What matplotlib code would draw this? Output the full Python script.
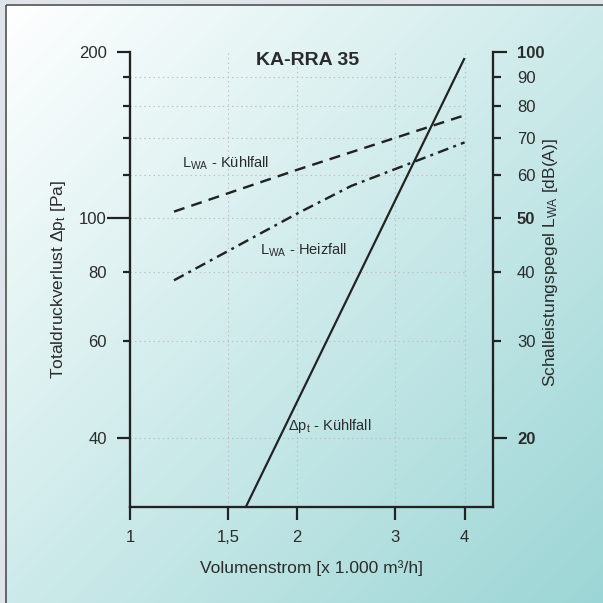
import numpy as np
import matplotlib
matplotlib.use('Agg')
import matplotlib.pyplot as plt
from matplotlib.patches import Rectangle
from matplotlib.ticker import NullLocator, FixedLocator, FixedFormatter

plt.rcParams['font.family'] = ['Liberation Sans', 'DejaVu Sans']
plt.rcParams['mathtext.fontset'] = 'custom'
plt.rcParams['mathtext.rm'] = 'Liberation Sans'
plt.rcParams['mathtext.it'] = 'Liberation Sans'
plt.rcParams['mathtext.bf'] = 'Liberation Sans:bold'

# ---------------- data ----------------
flow_dp = [1.6, 4.0]
dp_cool = [29.4, 195.0]                 # Pa (left axis)
flow_lwa_cool = [1.2, 2.0, 4.0]
lwa_cool = [51.4, 61.2, 76.8]           # dB(A) (right axis)
flow_lwa_heat = [1.2, 2.0, 2.5, 4.0]
lwa_heat = [38.6, 51.0, 57.2, 68.6]     # dB(A) (right axis)

x_ticks = [1, 1.5, 2, 3, 4]
x_ticklabels = ['1', '1,5', '2', '3', '4']
left_ticks = [40, 60, 80, 100, 120, 140, 160, 180, 200]
left_ticklabels = ['40', '60', '80', '100', '', '', '', '', '200']
right_ticks = [20, 30, 40, 50, 60, 70, 80, 90, 100]
right_ticklabels = ['20', '30', '40', '50', '60', '70', '80', '90', '100']
right_bold = ['20', '50', '100']

# ---------------- figure ----------------
W = H = 603
DPI = 100
fig = plt.figure(figsize=(W / DPI, H / DPI), dpi=DPI)
fig.patch.set_facecolor('#dfe4ea')
PT = 72.0 / DPI   # points per pixel
TXT = '#2b2b2b'
LN = '#222222'

# background gradient + frame
bg = fig.add_axes([0, 0, 1, 1], zorder=-10)
bg.axis('off')
yy, xx = np.mgrid[0:H, 0:W]
t = np.clip((xx + yy) / (2.0 * W), 0, 1)
c0 = np.array([255, 255, 255]) / 255.0
c1 = np.array([155, 213, 213]) / 255.0
img = c0[None, None, :] * (1 - t[..., None]) + c1[None, None, :] * t[..., None]
bg.imshow(img, extent=[5, W + 5, H + 4, 4], aspect='auto', interpolation='bilinear')
bg.add_patch(Rectangle((5.5, 4.5), 700, 700, fill=False, ec='#4a4a4a', lw=1.6 * PT * 1.0))
bg.set_xlim(0, W)
bg.set_ylim(H, 0)

# main axes
ax = fig.add_axes([130 / W, 1 - 507 / H, 363 / W, 455 / H])
ax.patch.set_alpha(0)
ax.set_xscale('log')
ax.set_yscale('log')
ax.set_xlim(1, 4.5)
ax.set_ylim(30, 200)

ax2 = ax.twinx()
ax2.set_yscale('log')
ax2.set_ylim(15, 100)
ax2.patch.set_alpha(0)

for a in (ax, ax2):
    for s in a.spines.values():
        s.set_visible(False)
    a.xaxis.set_minor_locator(NullLocator())
    a.yaxis.set_minor_locator(NullLocator())
ax.spines['left'].set_visible(True)
ax.spines['bottom'].set_visible(True)
ax2.spines['right'].set_visible(True)
for s in (ax.spines['left'], ax.spines['bottom'], ax2.spines['right']):
    s.set_linewidth(2.3 * PT)
    s.set_color(LN)

# grid (dotted) inside x 1..4, y 30..200
grid_c = '#c4b9bf'
ax.vlines(x_ticks[1:], 30, 200, colors=grid_c, linewidth=1.1 * PT, linestyles=(0, (1.2, 3)), zorder=1)
ax.hlines(left_ticks[:-1], 1, 4, colors=grid_c, linewidth=1.1 * PT, linestyles=(0, (1.2, 3)), zorder=1)

# curves
ax.plot(flow_dp, dp_cool, color=LN, lw=2.2 * PT, solid_capstyle='butt', zorder=3)
ax2.plot(flow_lwa_cool, lwa_cool, color=LN, lw=2.4 * PT, zorder=3,
         dashes=(4.6, 3.0), dash_capstyle='butt')
ax2.plot(flow_lwa_heat, lwa_heat, color=LN, lw=2.4 * PT, zorder=3,
         dashes=(4.6, 2.2, 1.2, 2.2), dash_capstyle='butt')

# x ticks
ax.xaxis.set_major_locator(FixedLocator(x_ticks))
ax.xaxis.set_major_formatter(FixedFormatter(x_ticklabels))
ax.tick_params(axis='x', direction='out', length=13 * PT, width=2.2 * PT, color=LN,
               pad=7, labelsize=12, labelcolor=TXT)

# left ticks
ax.yaxis.set_major_locator(FixedLocator(left_ticks))
ax.yaxis.set_major_formatter(FixedFormatter(left_ticklabels))
ax.tick_params(axis='y', direction='out', length=7 * PT, width=2.2 * PT, color=LN,
               pad=16 * PT, labelsize=12, labelcolor=TXT)

# right ticks
ax2.yaxis.set_major_locator(FixedLocator(right_ticks))
ax2.yaxis.set_major_formatter(FixedFormatter(right_ticklabels))
ax2.tick_params(axis='y', direction='out', length=8 * PT, width=2.2 * PT, color=LN,
                pad=16 * PT, labelsize=12, labelcolor=TXT)
ax2.tick_params(axis='x', bottom=False, top=False, labelbottom=False)

# texts
fig.text(308 / W, 1 - 60.5 / H, 'KA-RRA 35', ha='center', va='center',
         fontsize=14, fontweight='bold', color=TXT)
fig.text(58 / W, 1 - 279.5 / H, r'Totaldruckverlust Δp$_{\mathregular{t}}$ [Pa]',
         rotation=90, ha='center', va='center', fontsize=12.5, color=TXT)
fig.text(551 / W, 1 - 263 / H, r'Schalleistungspegel L$_{\mathregular{WA}}$ [dB(A)]',
         rotation=90, ha='center', va='center', fontsize=12.5, color=TXT)
fig.text(311.5 / W, 1 - 568 / H, 'Volumenstrom [x 1.000 m³/h]',
         ha='center', va='center', fontsize=12.5, color=TXT)

fig.text(181.7 / W, 1 - 168 / H, r'L$_{\mathregular{WA}}$ - Kühlfall',
         ha='left', va='baseline', fontsize=10.5, color=TXT)
fig.text(260 / W, 1 - 255 / H, r'L$_{\mathregular{WA}}$ - Heizfall',
         ha='left', va='baseline', fontsize=10.5, color=TXT)
fig.text(288 / W, 1 - 430 / H, r'Δp$_{\mathregular{t}}$ - Kühlfall',
         ha='left', va='baseline', fontsize=10.5, color=TXT)

# individual tick lengths / bold labels
for tk, v in zip(ax.yaxis.get_major_ticks(), left_ticks):
    if v in (40, 200):
        tk.tick1line.set_markersize(13 * PT)
    elif v == 100:
        tk.tick1line.set_markersize(23 * PT)
for tk, v in zip(ax2.yaxis.get_major_ticks(), right_ticks):
    if v in (20, 100):
        tk.tick2line.set_markersize(14 * PT)
for lab in ax2.get_yticklabels():
    if lab.get_text() in right_bold:
        lab.set_fontweight('bold')

fig.savefig('out.png', dpi=DPI, facecolor=fig.get_facecolor())
